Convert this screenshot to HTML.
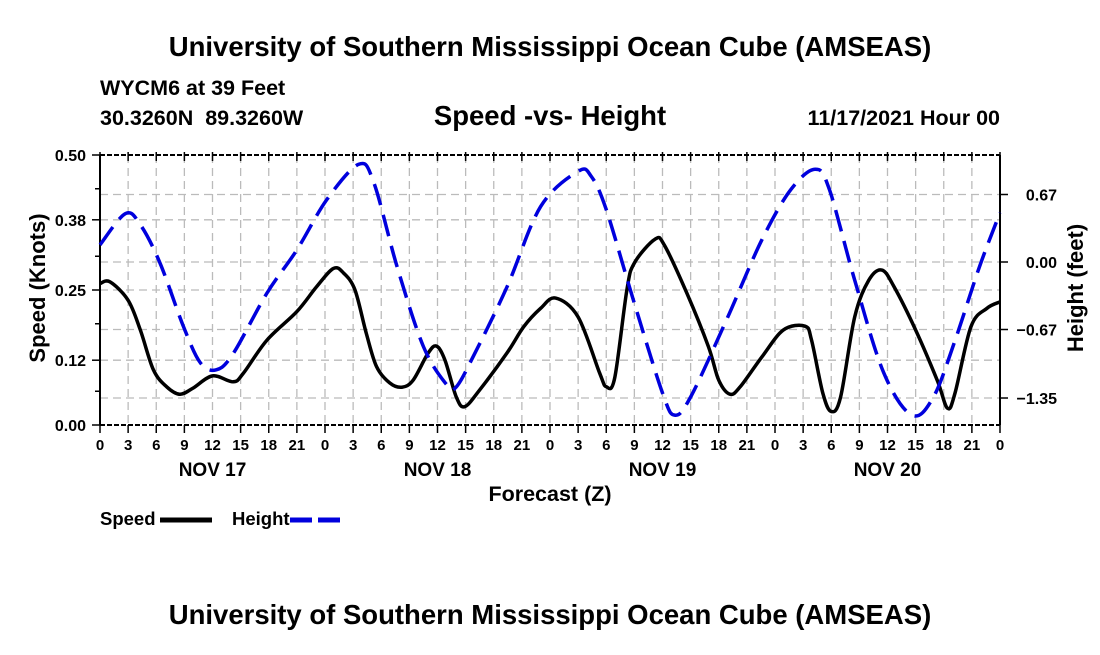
<!DOCTYPE html>
<html><head><meta charset="utf-8"><style>
body{margin:0;background:#fff;}
svg text{font-family:"Liberation Sans",Arial,sans-serif;font-weight:bold;fill:#000;}
</style></head><body>
<svg id="chart" width="1100" height="650" xmlns="http://www.w3.org/2000/svg">
<rect width="1100" height="650" fill="#fff"/>
<text x="550" y="56" font-size="27.5" text-anchor="middle">University of Southern Mississippi Ocean Cube (AMSEAS)</text>
<text x="100" y="95" font-size="21.5">WYCM6 at 39 Feet</text>
<text x="100" y="125" font-size="21.5" xml:space="preserve">30.3260N  89.3260W</text>
<text x="550" y="125" font-size="27.5" text-anchor="middle">Speed -vs- Height</text>
<text x="1000" y="125" font-size="21.5" text-anchor="end">11/17/2021 Hour 00</text>
<g id="grid"></g>
<g id="axes"></g>
<g id="series"></g>
<text transform="translate(45,288) rotate(-90)" font-size="22" text-anchor="middle">Speed (Knots)</text>
<text transform="translate(1083,288) rotate(-90)" font-size="22" text-anchor="middle">Height (feet)</text>
<text x="550" y="501" font-size="21.5" text-anchor="middle">Forecast (Z)</text>
<g>
<text x="100" y="525" font-size="18.5">Speed</text>
<line x1="160" y1="520" x2="212" y2="520" stroke="#000" stroke-width="5"/>
<text x="232" y="525" font-size="18.5">Height</text>
<line x1="290" y1="520" x2="342" y2="520" stroke="#0000dd" stroke-width="5" stroke-dasharray="22,6"/>
</g>
<text x="550" y="624" font-size="27.5" text-anchor="middle">University of Southern Mississippi Ocean Cube (AMSEAS)</text>
</svg>
<script>
const speedHours=[0,1.07,3,4.3,5.7,7.1,8.5,9.9,12,14.2,15.3,17.8,21,23.1,24.9,26,27.2,28.4,29.5,30.9,32.2,33.4,35,35.9,36.8,38,38.9,40.5,43.4,45.2,47,48.6,51,53.3,54,54.9,56.2,57,59.2,60.2,62.6,64.9,66,67.2,68.3,70.6,72.9,75.2,75.9,77.1,78,79,80.5,82,83.4,84.7,87,89.3,90.4,91.2,92.9,94.6,96];
const speedValues=[0.262,0.265,0.231,0.176,0.102,0.071,0.057,0.068,0.091,0.080,0.096,0.157,0.210,0.256,0.29,0.281,0.25,0.170,0.108,0.078,0.070,0.083,0.133,0.146,0.12,0.052,0.034,0.065,0.133,0.182,0.216,0.235,0.20,0.096,0.071,0.087,0.25,0.30,0.344,0.333,0.244,0.145,0.083,0.057,0.071,0.126,0.176,0.183,0.157,0.059,0.025,0.052,0.20,0.268,0.287,0.256,0.176,0.083,0.031,0.059,0.182,0.216,0.228];
const heightHours=[0,2.7,4.3,6.4,8.9,10.7,12.4,14.2,17.8,21,24.2,27.6,29.2,31.7,34.5,37,38,39.8,43.4,47,51,52.4,54,56.9,60,61.3,63,66.8,70.6,73.7,76.3,77.8,80.5,83.6,86.6,88.9,91.2,93.8,96];
const heightValues=[0.17,0.48,0.37,-0.01,-0.64,-1.0,-1.07,-0.91,-0.31,0.12,0.62,0.97,0.79,-0.05,-0.84,-1.22,-1.24,-0.94,-0.25,0.55,0.90,0.85,0.52,-0.38,-1.30,-1.52,-1.34,-0.58,0.22,0.72,0.92,0.72,-0.18,-1.10,-1.52,-1.34,-0.78,-0.05,0.49];
const xTickLabels=["0","3","6","9","12","15","18","21"];
const dayLabels=["NOV 17","NOV 18","NOV 19","NOV 20"];
const speedTicks=["0.00","0.12","0.25","0.38","0.50"];
const heightTicks=["-1.35","-0.67","0.00","0.67"];

const L=100,R=1000,T=155,B=425;
const X=h=>L+(h/96)*(R-L);
const YS=v=>B-(v/0.5)*(B-T);
const YH=v=>262-v*100.75;
const NS="http://www.w3.org/2000/svg";
function mk(tag,attrs,parent){const e=document.createElementNS(NS,tag);for(const k in attrs)e.setAttribute(k,attrs[k]);parent.appendChild(e);return e;}
const grid=document.getElementById('grid'),axes=document.getElementById('axes'),series=document.getElementById('series');
for(let h=3;h<96;h+=3){const l=mk('line',{x1:X(h),x2:X(h),y1:T,y2:B,stroke:'#bbb','stroke-width':1.3,'stroke-dasharray':'8,5'},grid);

}
speedTicks.forEach(s=>{const v=parseFloat(s);if(v>0&&v<0.5){const l=mk('line',{x1:L,x2:R,y1:YS(v),y2:YS(v),stroke:'#bbb','stroke-width':1.3,'stroke-dasharray':'8,5'},grid);

}});
heightTicks.forEach(s=>{const v=parseFloat(s);const l=mk('line',{x1:L,x2:R,y1:YH(v),y2:YH(v),stroke:'#bbb','stroke-width':1.3,'stroke-dasharray':'8,5'},grid);

});
let a=mk('line',{x1:L,x2:L,y1:T,y2:B,stroke:'#000','stroke-width':2},axes);

a=mk('line',{x1:R,x2:R,y1:T,y2:B,stroke:'#000','stroke-width':2},axes);

a=mk('line',{x1:L,x2:R,y1:B,y2:B,stroke:'#000','stroke-width':2,'stroke-dasharray':'5,2'},axes);

a=mk('line',{x1:L,x2:R,y1:T,y2:T,stroke:'#000','stroke-width':2,'stroke-dasharray':'5,2'},axes);

for(let i=0;i<=32;i++){const h=i*3;
 mk('line',{x1:X(h),x2:X(h),y1:B,y2:B+8,stroke:'#000','stroke-width':1.5},axes);
 mk('line',{x1:X(h),x2:X(h),y1:T-3,y2:T+6,stroke:'#000','stroke-width':1.5},axes);
 const t=mk('text',{x:X(h),y:B+25,'font-size':15,'text-anchor':'middle'},axes);t.textContent=xTickLabels[i%8];
 
 }
dayLabels.forEach((d,i)=>{const t=mk('text',{x:X(12+24*i),y:B+51,'font-size':19,'text-anchor':'middle'},axes);t.textContent=d;
 
 });
speedTicks.forEach(s=>{const v=parseFloat(s);mk('line',{x1:L-8,x2:L,y1:YS(v),y2:YS(v),stroke:'#000','stroke-width':1.5},axes);
 const t=mk('text',{x:L-14,y:YS(v)+6,'font-size':16,'text-anchor':'end'},axes);t.textContent=s;
 
 });
for(let v=0.0625;v<0.5;v+=0.125)mk('line',{x1:L-5,x2:L,y1:YS(v),y2:YS(v),stroke:'#000','stroke-width':1.5},axes);
heightTicks.forEach(s=>{const v=parseFloat(s);mk('line',{x1:R,x2:R+8,y1:YH(v),y2:YH(v),stroke:'#000','stroke-width':1.5},axes);
 const t=mk('text',{x:R+57,y:YH(v)+6,'font-size':16,'text-anchor':'end'},axes);t.textContent=s.replace('-','\u2212');
 
 });
function path(hs,vs,yf){const p=hs.map((h,i)=>[X(h),yf(vs[i])]);let d='M'+p[0][0]+','+p[0][1];
 for(let i=0;i<p.length-1;i++){const p0=p[Math.max(0,i-1)],p1=p[i],p2=p[i+1],p3=p[Math.min(p.length-1,i+2)];
  const c1=[p1[0]+(p2[0]-p0[0])/6,p1[1]+(p2[1]-p0[1])/6],c2=[p2[0]-(p3[0]-p1[0])/6,p2[1]-(p3[1]-p1[1])/6];
  d+=' C'+c1+' '+c2+' '+p2;}return d;}
const sp=mk('path',{d:path(speedHours,speedValues,YS),fill:'none',stroke:'#000','stroke-width':3.5},series);


const hp=mk('path',{d:path(heightHours,heightValues,YH),fill:'none',stroke:'#0000dd','stroke-width':3.5,'stroke-dasharray':'22,10'},series);


</script>
</body></html>
